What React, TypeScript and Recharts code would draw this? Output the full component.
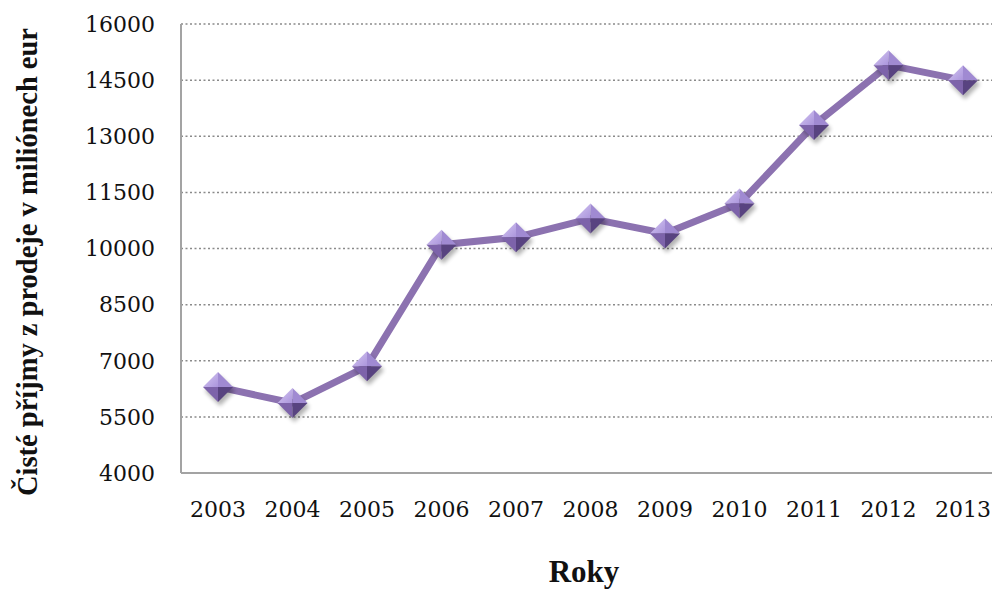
import React from "react";
import {
  LineChart,
  Line,
  XAxis,
  YAxis,
  CartesianGrid,
} from "recharts";

// Roky a čisté příjmy (mil. eur)
const years = ["2003", "2004", "2005", "2006", "2007", "2008", "2009", "2010", "2011", "2012", "2013"];
const revenue = [6300, 5870, 6850, 10100, 10300, 10800, 10400, 11200, 13300, 14900, 14500];
const yTicks = [4000, 5500, 7000, 8500, 10000, 11500, 13000, 14500, 16000];

const Y_TITLE = "Čisté příjmy z prodeje v miliónech eur";
const X_TITLE = "Roky";

const data = years.map((year, i) => ({ year, value: revenue[i] }));

const AXIS_COLOR = "#a3a3a3";
const LINE_COLOR = "#8c72b0";
const TICK_STYLE = { fontFamily: "DejaVu Serif", fontSize: 22, fill: "#111" };

// pyramid-shaped marker, four shaded facets
function Diamond({ cx, cy }: { cx: number; cy: number }) {
  const r = 15;
  const T = `${cx},${cy - r}`;
  const R = `${cx + r},${cy}`;
  const B = `${cx},${cy + r}`;
  const L = `${cx - r},${cy}`;
  const C = `${cx},${cy}`;
  return (
    <g>
      <polygon
        points={`${cx + 2},${cy - r + 4} ${cx + r + 2},${cy + 4} ${cx + 2},${cy + r + 4} ${cx - r + 2},${cy + 4}`}
        fill="#000"
        opacity={0.3}
        filter="url(#markerShadow)"
      />
      <polygon points={`${T} ${L} ${C}`} fill="url(#facetUL)" />
      <polygon points={`${T} ${R} ${C}`} fill="#a08ad2" />
      <polygon points={`${L} ${B} ${C}`} fill="#7d63aa" />
      <polygon points={`${R} ${B} ${C}`} fill="#584380" />
    </g>
  );
}

export default function App() {
  return (
    <div
      style={{
        position: "absolute",
        left: 0,
        top: 0,
        width: 992,
        height: 589,
        overflow: "hidden",
        background: "#fff",
      }}
    >
      <LineChart
        width={1000}
        height={589}
        data={data}
        margin={{ top: 24, right: 0, bottom: 0, left: 0 }}
      >
        <defs>
          <linearGradient id="facetUL" x1="0" y1="0" x2="1" y2="1">
            <stop offset="0%" stopColor="#d6c9f3" />
            <stop offset="100%" stopColor="#ab95dc" />
          </linearGradient>
          <filter id="markerShadow" x="-50%" y="-50%" width="200%" height="200%">
            <feGaussianBlur stdDeviation="2" />
          </filter>
        </defs>

        <CartesianGrid
          vertical={false}
          stroke="#8a8a8a"
          strokeWidth={1.5}
          strokeDasharray="2 2.5"
        />

        <XAxis
          dataKey="year"
          height={116}
          padding={{ left: 37, right: 37 }}
          axisLine={{ stroke: AXIS_COLOR, strokeWidth: 2 }}
          tickLine={false}
          tickSize={0}
          tickMargin={28}
          tick={TICK_STYLE}
          interval={0}
          label={{
            content: () => (
              <text
                x={584}
                y={582}
                textAnchor="middle"
                style={{ fontFamily: "Liberation Serif", fontWeight: 700, fontSize: 31, fill: "#111" }}
              >
                {X_TITLE}
              </text>
            ),
          }}
        />

        <YAxis
          width={181}
          domain={[4000, 16000]}
          ticks={yTicks}
          interval={0}
          axisLine={{ stroke: AXIS_COLOR, strokeWidth: 2 }}
          tickLine={false}
          tickSize={0}
          tickMargin={26}
          tick={TICK_STYLE}
          label={{
            content: () => (
              <text
                transform="translate(37,262) rotate(-90)"
                textAnchor="middle"
                style={{ fontFamily: "Liberation Serif", fontWeight: 700, fontSize: 28.5, fill: "#111" }}
              >
                {Y_TITLE}
              </text>
            ),
          }}
        />

        <Line
          dataKey="value"
          type="linear"
          stroke={LINE_COLOR}
          strokeWidth={7}
          strokeLinejoin="round"
          dot={(props: any) => <Diamond key={`d-${props.index}`} cx={props.cx} cy={props.cy} />}
          activeDot={false}
          isAnimationActive={false}
        />
      </LineChart>
    </div>
  );
}
